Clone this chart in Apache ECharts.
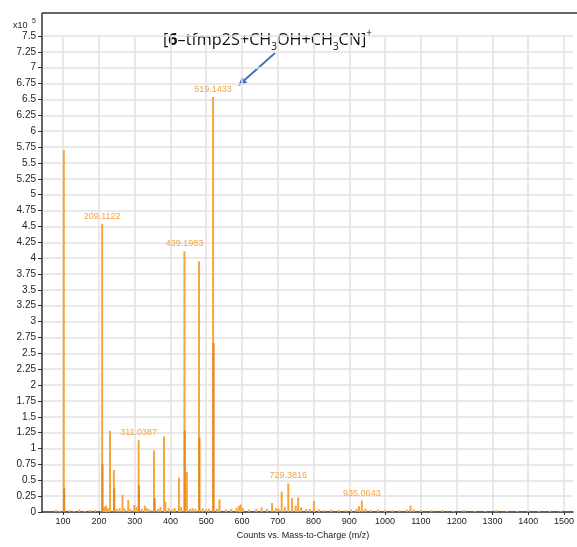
<!DOCTYPE html>
<html>
<head>
<meta charset="utf-8">
<script src="https://cdn.jsdelivr.net/npm/echarts@6/dist/echarts.min.js"></script>
<style>html,body{margin:0;padding:0;background:#fff;}#c{width:577px;height:547px;}</style>
</head>
<body>
<div id="c"></div>
<script>
// m/z tick labels
const xTicks = [100,200,300,400,500,600,700,800,900,1000,1100,1200,1300,1400,1500];
// Labeled peaks [m/z, counts x10^5]
const labeledPeaks = [[209.1122,4.54],[311.0387,1.13],[439.1983,4.11],[519.1433,6.54],[729.3816,0.45],[935.0643,0.18]];
// Other main peaks
const mainPeaks = [[102,5.70],[231,1.28],[242,0.66],[266,0.27],[282,0.19],[299,0.11],[329,0.10],[354,0.97],[382,1.19],[386,0.16],[424,0.54],[446,0.63],[480,3.95],[537,0.20],[684,0.14],[711,0.32],[740,0.22],[757,0.23],[801,0.17],[927,0.09],[1071,0.10]];
// Overlapping (darker) isotope traces
const isoPeaks = [[103,0.38],[210,0.76],[243,0.38],[312,0.42],[356,0.22],[440,1.28],[481,1.17],[520.5,2.66]];
// Baseline noise
const noisePeaks = [[80,0.03],[90,0.02],[118,0.03],[130,0.02],[145,0.04],[160,0.02],[175,0.03],[190,0.03],[215,0.08],[220,0.10],[225,0.06],[250,0.05],[258,0.06],[272,0.06],[288,0.05],[305,0.08],[320,0.05],[335,0.06],[342,0.04],[365,0.05],[372,0.08],[395,0.06],[405,0.04],[412,0.06],[430,0.08],[455,0.05],[462,0.06],[470,0.05],[490,0.06],[500,0.04],[508,0.05],[530,0.05],[555,0.04],[570,0.05],[585,0.07],[592,0.10],[597,0.12],[603,0.06],[620,0.04],[640,0.05],[655,0.07],[670,0.05],[695,0.06],[702,0.05],[720,0.08],[750,0.10],[765,0.07],[780,0.05],[790,0.05],[815,0.04],[830,0.03],[850,0.04],[870,0.03],[890,0.03],[905,0.04],[920,0.05],[945,0.05],[960,0.03],[980,0.04],[1000,0.03],[1020,0.03],[1040,0.03],[1060,0.04],[1080,0.04],[1100,0.03],[1130,0.03],[1160,0.03],[1190,0.02],[1220,0.03],[1250,0.02],[1280,0.02],[1310,0.03],[1340,0.02],[1370,0.02],[1400,0.02],[1430,0.02],[1460,0.02],[1490,0.02]];

const ORANGE = '#F7A63E';
const DARK_ORANGE = '#E8871A';
const LABEL_ORANGE = '#F4A443';
const AX_FONT = 'Liberation Sans, Arial, sans-serif';

const data = [];
noisePeaks.forEach(p => data.push({value: p, itemStyle: {color: ORANGE}}));
mainPeaks.forEach(p => data.push({value: p, itemStyle: {color: ORANGE}}));
labeledPeaks.forEach(p => data.push({
  value: p, itemStyle: {color: ORANGE},
  label: {show: true, position: 'top', distance: 3, color: LABEL_ORANGE, fontSize: 9,
    fontFamily: AX_FONT, formatter: p[0].toFixed(4)}
}));
isoPeaks.forEach(p => data.push({value: p, itemStyle: {color: DARK_ORANGE}}));

const chart = echarts.init(document.getElementById('c'), null, {renderer: 'canvas'});
chart.setOption({
  animation: false,
  backgroundColor: '#fff',
  grid: {left: 42, right: 0, top: 36, bottom: 35},
  xAxis: {
    type: 'value', min: 41, max: 1525,
    name: 'Counts vs. Mass-to-Charge (m/z)', nameLocation: 'middle', nameGap: 16,
    nameTextStyle: {fontSize: 9, color: '#222', fontFamily: AX_FONT, padding: [0, 9, 0, 0]},
    axisLine: {lineStyle: {color: '#333', width: 1.5}},
    axisTick: {show: true, length: 3, customValues: xTicks, lineStyle: {color: '#333'}},
    axisLabel: {customValues: xTicks, fontSize: 9, color: '#222', margin: 5, fontFamily: AX_FONT,
      formatter: v => String(v)},
    splitLine: {show: true, lineStyle: {color: '#e2e2e2', width: 1.5}}
  },
  yAxis: {
    type: 'value', min: 0, max: 7.5, interval: 0.25,
    axisLine: {show: true, lineStyle: {color: '#333', width: 1.5}},
    axisTick: {show: true, length: 4, lineStyle: {color: '#333'}},
    axisLabel: {fontSize: 10, color: '#222', margin: 6, fontFamily: AX_FONT},
    splitLine: {show: true, lineStyle: {color: '#e2e2e2', width: 1.5}}
  },
  series: [{
    type: 'bar', barWidth: 2, data: data, clip: false,
    emphasis: {disabled: true}
  }],
  graphic: [
    {type: 'line', shape: {x1: 42, y1: 13, x2: 577, y2: 13}, style: {stroke: '#333', lineWidth: 1.5}},
    {type: 'line', shape: {x1: 42, y1: 13, x2: 42, y2: 36}, style: {stroke: '#333', lineWidth: 1.5}},
    {type: 'text', x: 13, y: 21, style: {text: 'x10', fontSize: 9, fill: '#222', fontFamily: AX_FONT}},
    {type: 'text', x: 32, y: 18, style: {text: '5', fontSize: 7, fill: '#222', fontFamily: AX_FONT}},
    {type: 'text', x: 163, y: 28, style: {
      text: '{a|[}{b|6}{a|–tfmp2S+CH}{s|3}{a|OH+CH}{s|3}{a|CN]}{p|+}',
      fontFamily: 'Open Sans, sans-serif', fill: '#111',
      rich: {
        a: {fontSize: 16.2, fontFamily: 'Open Sans, sans-serif', color: '#111', lineHeight: 24, verticalAlign: 'middle'},
        b: {fontSize: 16.2, fontWeight: 'bold', fontFamily: 'Open Sans, sans-serif', color: '#111', lineHeight: 24, verticalAlign: 'middle'},
        s: {fontSize: 10, fontFamily: 'Open Sans, sans-serif', color: '#111', lineHeight: 22, verticalAlign: 'bottom'},
        p: {fontSize: 10, fontFamily: 'Open Sans, sans-serif', color: '#111', lineHeight: 24, verticalAlign: 'top'}
      }
    }},
    {type: 'line', shape: {x1: 275, y1: 53, x2: 244.6, y2: 79.9}, style: {stroke: '#4472C4', lineWidth: 2}},
    {type: 'polygon', shape: {points: [[238, 86], [247.3, 82.8], [241.9, 77.0]]}, style: {fill: '#4472C4'}}
  ]
});
</script>
</body>
</html>
